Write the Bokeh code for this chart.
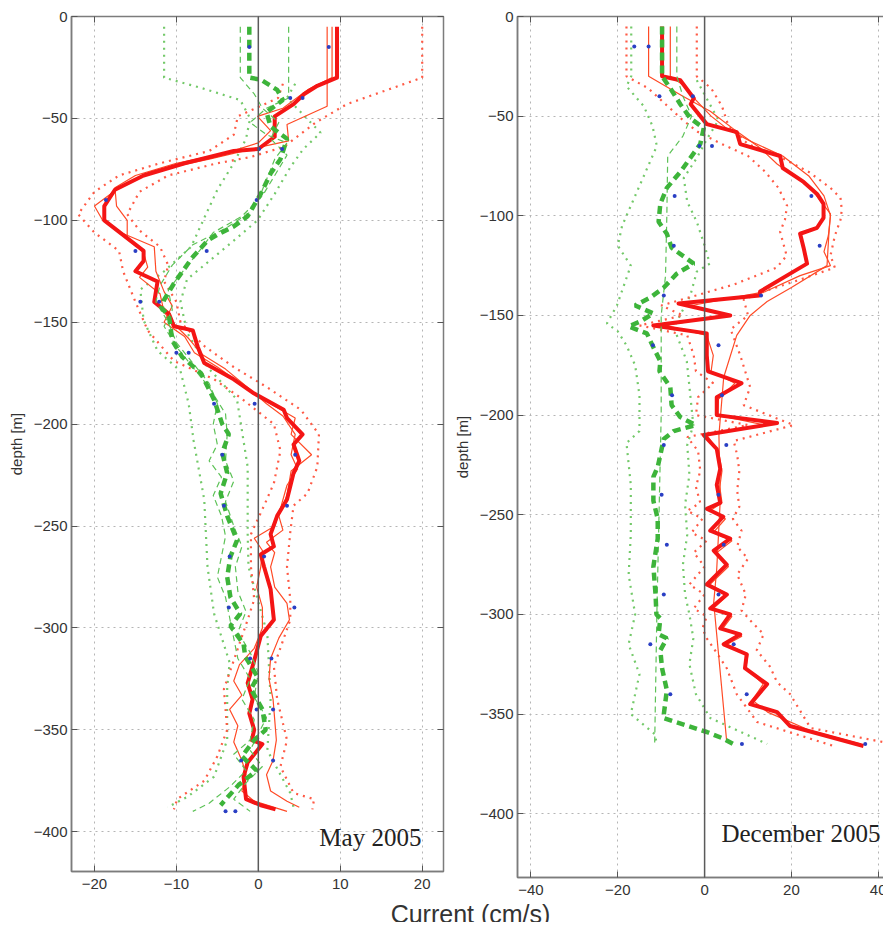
from bokeh.plotting import figure
from bokeh.layouts import column, row
from bokeh.models import LinearAxis, FixedTicker, Span, Label, Range1d, CustomJSTickFormatter
from bokeh.embed import file_html
from bokeh.resources import INLINE

# ---------------- data: (current cm/s, depth m) ----------------
# May 2005
may_red_thick = [(9.6,5),(9.6,30),(7.2,34),(5.6,38),(4.3,43),(2.0,49),(2.0,59),(0.0,65),(-3.0,66),(-9.0,72),(-14.0,78),(-17.5,85),(-18.8,93),(-18.8,100),(-14.0,115),(-14.0,120),(-15.0,125),(-12.3,130),(-12.7,140),(-10.9,146),(-10.3,152),(-8.0,154),(-7.4,162),(-6.6,170),(-3.0,178),(-0.5,185),(3.1,193),(3.5,197),(5.4,205),(4.3,210),(5.0,218),(4.3,224),(3.5,237),(2.3,245),(1.5,254),(1.9,260),(0.3,264),(0.7,270),(1.5,281),(1.9,296),(0.3,304),(-0.5,316),(-1.3,327),(-0.7,335),(-1.1,342),(-0.5,350),(-0.8,355),(0.5,357),(-1.3,366),(-1.8,373),(-1.5,384),(0.3,387),(2.1,389)]
may_red_thin_a = [(8.4,5),(8.4,44),(3.5,53),(3.7,61),(0.3,64),(-6,70),(-13,76),(-17,84),(-20,93),(-19,100),(-16.8,106),(-12.7,113),(-12.5,125),(-11.5,135),(-10.5,142),(-11.5,150),(-9,157),(-7.8,165),(-5,172),(-1.5,182),(1.5,190),(4.5,197),(4,205),(6.5,215),(4,223),(3.5,235),(2.5,245),(3,252),(1,258),(2,263),(1.5,270),(2,280),(3.5,288),(3.8,296),(2.5,305),(1.5,315),(1.3,325),(1.8,335),(2,345),(2.2,355),(1.8,365),(1,372),(1.5,380),(3.5,385),(5,388)]
may_red_thin_b = [(9.0,5),(9.0,30),(6,36),(3,45),(-0.1,49),(1.5,56),(0,62),(-4,67),(-10,72),(-15,78),(-17.5,84),(-17.3,93),(-16,100),(-16,108),(-14,116),(-13.5,123),(-14.5,128),(-12,136),(-11.5,145),(-10.5,150),(-8.5,158),(-6.8,166),(-4,173),(-1,183),(1,190),(3,196),(4.5,205),(4,215),(4.8,222),(3.5,230),(2.8,240),(2,250),(-0.5,256),(0.5,262),(0.3,270),(-0.2,280),(0.5,290),(0.5,300),(-0.5,310),(-2.3,318),(-3,326),(-2,333),(-3.5,340),(-2.5,348),(-3,356),(-2,365),(-1.5,372),(-2,380),(-0.5,385),(3.5,390)]
may_red_dot_hi = [(20,5),(20,30),(10.8,43),(7,52),(3.1,64),(-1,69),(-5,72),(-11,78),(-14.5,86),(-16,97),(-14.5,105),(-12,113),(-11,122),(-11.5,130),(-10,140),(-9.5,150),(-6.5,162),(-3,172),(1.1,182),(5.2,193),(7.4,205),(7.2,221),(6,234),(4.3,240),(3.9,253),(3.5,270),(3.9,286),(3.9,296),(1.9,319),(2.3,335),(3.5,355),(2.7,368),(4.3,381),(6.8,384),(6.6,389)]
may_red_dot_lo = [(3,33),(2.4,40),(-2.5,49),(-3,58),(-6,66),(-12,72),(-17,78),(-20,86),(-22,97),(-20,106),(-17,115),(-16.5,125),(-15,140),(-13.5,154),(-10.3,169),(-5.4,178),(-2.2,187),(1.9,200),(2.7,213),(1.9,229),(0.7,240),(-0.9,254),(-0.9,270),(-0.5,286),(-1.3,296),(-3,316),(-4.2,330),(-3.8,350),(-5,363),(-6.6,375),(-9.9,384),(-10.3,389)]
may_green_thick = [(-1.1,5),(-1.1,30),(0.3,31),(2.3,36),(3,41),(1,47),(1.5,54),(3.5,60),(2.7,70),(1.5,77),(0.3,87),(-1.3,98),(-3,103),(-5,107),(-6.2,110),(-8,118),(-10.3,131),(-11.5,139),(-11.8,143),(-10.9,147),(-10.5,159),(-9.3,167),(-7,175),(-5.4,188),(-4.4,200),(-3.6,205),(-4.4,214),(-3.8,224),(-4.6,234),(-3.8,245),(-2.6,257),(-3.4,265),(-3.8,275),(-3.4,285),(-2.2,293),(-3.4,299),(-1.8,308),(-1.6,314),(-0.1,324),(-0.9,330),(0.5,340),(0.9,350),(-0.5,355),(-2.0,363),(-0.2,370),(-2.4,377),(-4.6,387)]
may_green_thin_a = [(3.7,5),(3.7,40),(1,45),(-1,52),(1,58),(3.5,62),(2,70),(1,80),(0,90),(-1,96),(-4,104),(-8,112),(-10.5,122),(-12,132),(-12.5,140),(-11,150),(-10,160),(-8,170),(-6,180),(-5,190),(-5.5,200),(-5,210),(-6,218),(-4.5,226),(-5.5,235),(-4.5,245),(-4,255),(-4.5,265),(-5,275),(-4,285),(-3.5,295),(-3,305),(-2.5,315),(-1,325),(-2,335),(-0.5,345),(-1,355),(-3,362),(-1.5,370),(-3.5,378),(-6,386),(-8,390)]
may_green_thin_b = [(-2.2,5),(-2.2,30),(-0.5,38),(0.5,45),(2.5,52),(1.5,60),(3.5,68),(2,78),(0.5,88),(-2,98),(-5.5,106),(-7,114),(-9,124),(-11,134),(-10.5,144),(-11.5,152),(-10,162),(-8,172),(-6,182),(-4,195),(-3.8,205),(-4,218),(-3,228),(-4,238),(-3,250),(-2,260),(-2.8,270),(-2.5,282),(-1.5,292),(-2.5,302),(-1,312),(0,322),(-0.5,334),(1,344),(0,352),(-1,360),(0.5,368),(-1.5,376),(-3,384),(-1,390)]
may_green_dot_lo = [(-11.5,5),(-11.5,30),(-7,35),(-2.2,41),(-1,50),(-1.5,60),(-3,72),(-5,85),(-6.5,98),(-8.2,113),(-11.5,125),(-14.4,134),(-14,149),(-12.3,164),(-9.5,174),(-8.5,190),(-7.9,208),(-6.6,237),(-6.2,270),(-5.4,293),(-3.5,317),(-3.8,329),(-3.8,355),(-5.4,373),(-8.7,383),(-11.1,388)]
may_green_dot_hi = [(4.5,33),(3.5,40),(7.6,57),(5.5,65),(3.9,74),(2,87),(-0.1,100),(-3,110),(-6,120),(-8.7,129),(-9.5,140),(-8.7,155),(-6.2,172),(-2.6,188),(-1.3,221),(-1.3,254),(-1.2,270),(1.1,303),(1.5,335),(1.1,360),(3.9,381),(4.3,388)]
may_blue = [(8.6,15),(-1.1,15),(3.9,40),(5.4,40),(2.9,65),(0.1,65),(-18.6,90),(-0.2,90),(-15,115),(-6.3,115),(-14.4,140),(-12.1,140),(-10,165),(-8.5,165),(-5.4,190),(-0.45,190),(-4.4,215),(4.5,215),(-4.2,240),(3.5,240),(-3.5,265),(0.7,265),(-3.6,290),(4.4,290),(-1,315),(1.6,315),(-0.2,340),(1.8,340),(-2.1,365),(1.8,365),(-4,390),(-2.8,390)]

# December 2005
dec_red_thick = [(-9.8,5),(-9.8,30),(-5.6,32),(-2.5,41),(-3.2,44),(0.5,54),(7.4,58),(8.2,64),(17.4,70),(18,76),(22.8,83),(25.9,89),(27.4,94),(27.4,101),(25.9,106),(22,109),(22.8,116),(23.6,124),(19.7,129),(12.8,138),(12.6,140),(-6.0,144),(5.9,150),(-11.8,155),(0.5,159),(0.5,170),(0.8,178),(8.5,184),(2.8,191),(2.8,200),(16.7,204),(-0.2,210),(2.8,217),(3.6,227),(2.8,235),(3.6,244),(0.5,247),(4.3,251),(1.3,258),(5.9,262),(2.1,268),(5.1,275),(0.5,285),(5.1,290),(1.3,297),(5.9,300),(3.6,307),(8.2,310),(4.4,315),(9.7,320),(9.3,327),(14.4,335),(10.5,345),(16.7,349),(19.7,356),(36.6,366)]
dec_red_thin_a = [(-12.9,5),(-12.9,30),(-5,40),(1.3,47.5),(7,57),(12.8,66),(16.7,74),(24.4,86),(29,99),(28.6,110),(28.2,125),(20,136),(14.4,143),(10.5,150),(7.4,160),(4.4,181),(3.3,210),(3.6,243),(2.8,277),(2.1,294),(5.1,364)]
dec_red_thin_b = [(-7.9,5),(-7.9,30),(-4.5,35),(-2,42),(1.5,50),(5,56),(10,62),(18,70),(24,80),(27.5,90),(29,100),(28.5,110),(27.5,118),(29,125),(22,130),(14,138),(-3,145),(5,150),(-9,155),(0.5,160),(2,170),(1.5,178),(7,184),(3.2,192),(3,200),(14,205),(0.5,210),(3.2,218),(4,228),(3.5,236),(4,244),(1.2,248),(4.8,252),(2,259),(6.3,263),(2.8,269),(5.5,276),(1.2,285),(5.5,290),(2,297),(6.3,301),(4.2,307),(8.6,311),(5.2,315),(10,320),(9.5,327),(13.5,335),(11,343),(14.5,349),(24,358),(36,365)]
dec_red_dot_hi = [(-1.8,5),(-1.8,30),(1.5,36),(4,45),(5.5,55),(10,64),(17,70),(24,78),(29,86),(31.3,91),(31.6,97),(31.3,102),(30,110),(29,120),(30,126),(22,132),(15,137),(9,142),(10,150),(6,157),(8.2,170),(10.5,186),(9,195),(20.5,205),(6.7,213),(7.5,220),(8,228),(7.5,238),(8,246),(6.5,252),(8.5,258),(7.5,266),(10,272),(7.5,280),(9.5,290),(8.5,298),(10.5,303),(13.6,310),(12,318),(15,326),(16.7,334),(19.7,340),(24.4,357),(41,364)]
dec_red_dot_lo = [(-18,5),(-18,30),(-13,36),(-9,44),(-5,52),(-1.5,58),(4,64),(10,70),(14,78),(17,86),(19,95),(18.5,102),(17.4,108),(18.9,120),(16.6,126),(6.7,134.5),(-2,140),(-10,145),(-5,150),(-15,155),(-4,160),(-2.5,170),(-2,178),(2,184),(-1.5,191),(-2,200),(10,205),(-4,211),(-1.5,218),(-1,228),(-2,236),(-1,244),(-4,248),(-0.5,252),(-3,259),(0.5,263),(-2.5,269),(0,276),(-3.5,285),(0,290),(-2.5,297),(0.5,301),(-0.5,307),(0.5,312),(3,320),(5.1,327),(7.4,340),(12.1,354),(29.7,366)]
dec_green_thick = [(-9.8,5),(-9.8,30),(-7.9,36),(-5.6,44),(-3.3,51),(-0.2,56),(-1,64),(-3.3,71),(-5.6,78),(-8.7,86),(-10.2,94),(-10.6,103),(-8.7,109),(-7.6,116),(-2.5,124),(-6.4,129),(-9.4,136),(-12.5,141),(-16,145),(-11.8,149),(-14.8,153),(-17.5,155.5),(-13.3,159),(-11.8,166),(-10.2,173),(-10.4,178),(-7.9,186),(-7.6,195),(-5.6,201),(-2.1,205),(-7.1,208),(-9.4,212),(-10.2,220),(-10.8,226),(-11.8,231),(-11.8,243),(-10.8,252),(-10.8,262),(-11.8,276),(-11.3,290),(-11.1,300),(-10.2,302),(-10.6,310),(-8.7,312),(-10.2,318),(-9.8,327),(-8.7,338),(-9.5,352),(-3.8,356),(0.5,359),(4,362),(7.4,366)]
dec_green_thin = [(-6.4,5),(-6.4,30),(-5,40),(-3,50),(-5,60),(-8.5,70),(-8.7,100),(-9,130),(-10,150),(-10,200),(-10.5,250),(-11,300),(-11.5,365)]
dec_green_dot_lo = [(-16.9,5),(-16.9,30),(-18,35),(-14,45),(-12,55),(-11,65),(-14,80),(-17,95),(-19,105),(-20,115),(-17,125),(-20.2,145),(-22.5,154),(-20,158),(-18,165),(-16,175),(-15,190),(-15,208),(-18,214),(-17,235),(-17,260),(-17.5,280),(-16,300),(-17.5,315),(-15,330),(-17,350),(-11.5,360),(-11,365)]
dec_green_dot_hi = [(-1.8,32),(3.2,52),(0.4,62),(-1.8,71),(-4.8,81),(-4,93),(-1.8,103),(0,115),(1.2,124),(-1.8,128),(-3.3,140),(-7.1,156),(-4.1,173),(-3.3,190),(-2.6,205),(-4,215),(-3.5,230),(-4.5,245),(-4,260),(-5,275),(-4.5,290),(-3.5,300),(-2.6,312),(-3.5,325),(-2,340),(1.3,352),(14.4,365)]
dec_blue = [(-16.2,15),(-12.9,15),(-10.4,40),(-2.7,40),(-1.2,65),(1.7,65),(-6.9,90),(24.6,90),(-7.1,115),(26.5,115),(-9.4,140),(13,140),(-11.9,165),(3.2,165),(-7.5,190),(4,190),(-9.4,215),(5,215),(-9.9,240),(3.2,240),(-8.7,265),(4.4,265),(-9.4,290),(3.2,290),(-12.5,315),(6.7,315),(-7.9,340),(9.7,340),(8.6,365),(37,365)]

may_xticks = [-20, -10, 0, 10, 20]
dec_xticks = [-40, -20, 0, 20, 40]
depth_ticks = [-400, -350, -300, -250, -200, -150, -100, -50, 0]

RED = "#f41515"
RED_THIN = "#ff4a26"
RED_DOT = "#ff5a45"
GREEN = "#3db43a"
GREEN_THIN = "#5dc257"
GREEN_DOT = "#74c96a"
BLUE = "#2a3fc4"
FRAME = "#7c7c7c"
TXT = "#333333"
SANS = "Liberation Sans"


def xy(pts):
    return [v for v, d in pts], [-d for v, d in pts]


def panel(xr, yr, fw, fh, bl, bt, br, bb, xticks, right_axis):
    p = figure(frame_width=fw, frame_height=fh, x_range=Range1d(*xr), y_range=Range1d(*yr),
               min_border_left=bl, min_border_top=bt, min_border_right=br, min_border_bottom=bb,
               title=None, output_backend="svg", toolbar_location=None)
    p.background_fill_color = "white"
    p.border_fill_color = None
    p.outline_line_color = FRAME
    p.outline_line_width = 1.5
    p.xaxis.ticker = FixedTicker(ticks=xticks)
    p.yaxis.ticker = FixedTicker(ticks=depth_ticks)
    for ax in (p.xaxis[0], p.yaxis[0]):
        ax.axis_line_color = FRAME
        ax.axis_line_width = 1.5
        ax.major_tick_in = 6
        ax.major_tick_out = 0
        ax.minor_tick_out = 0
        ax.major_tick_line_color = "#555555"
        ax.minor_tick_line_color = None
        ax.major_label_text_font = SANS
        ax.major_label_text_font_size = "15px"
        ax.major_label_text_color = TXT
    p.xaxis.major_label_standoff = 7
    p.yaxis.major_label_standoff = 4
    p.yaxis.axis_label = "depth [m]"
    p.yaxis.axis_label_text_font = SANS
    p.yaxis.axis_label_text_font_size = "15px"
    p.yaxis.axis_label_text_font_style = "normal"
    p.yaxis.axis_label_text_color = TXT
    p.yaxis.axis_label_standoff = 6
    p.grid.grid_line_color = "#b5b5b5"
    p.grid.grid_line_dash = "2 4"
    p.grid.grid_line_width = 1
    locs = [("above", xticks)] + ([("right", depth_ticks)] if right_axis else [])
    for loc, t in locs:
        a = LinearAxis(ticker=FixedTicker(ticks=t), formatter=CustomJSTickFormatter(code="return ''"),
                       major_label_text_font_size="1px",
                       major_label_standoff=0, major_tick_in=6, major_tick_out=0, minor_tick_out=0,
                       major_tick_line_color="#555555", minor_tick_line_color=None,
                       axis_line_color=None)
        p.add_layout(a, loc)
    p.add_layout(Span(location=0, dimension="height", line_color="#5a5a5a", line_width=1.5))
    return p


def draw(p, red_dot_lo, red_dot_hi, red_thin, red_thick, green_dot_lo, green_dot_hi,
         green_thin, green_thick, blue):
    for s in (green_dot_lo, green_dot_hi):
        x, y = xy(s)
        p.line(x, y, line_color=GREEN_DOT, line_width=2.2, line_dash="2 5")
    for s in (red_dot_lo, red_dot_hi):
        x, y = xy(s)
        p.line(x, y, line_color=RED_DOT, line_width=2.2, line_dash="2 5")
    for s in red_thin:
        x, y = xy(s)
        p.line(x, y, line_color=RED_THIN, line_width=1.2)
    x, y = xy(red_thick)
    p.line(x, y, line_color=RED, line_width=4, line_join="round")
    for s in green_thin:
        x, y = xy(s)
        p.line(x, y, line_color=GREEN_THIN, line_width=1.2, line_dash="6 4")
    x, y = xy(green_thick)
    p.line(x, y, line_color=GREEN, line_width=4.5, line_dash="8 5")
    x, y = xy(blue)
    p.scatter(x, y, size=4, color=BLUE, line_color=None)


p1 = panel((-22.8, 22.6), (-419.5, 0), 372, 855, 71, 16, 7, 31, may_xticks, True)
draw(p1, may_red_dot_lo, may_red_dot_hi, [may_red_thin_a, may_red_thin_b], may_red_thick,
     may_green_dot_lo, may_green_dot_hi, [may_green_thin_a, may_green_thin_b], may_green_thick, may_blue)
p1.add_layout(Label(x=19.9, y=-403, text="May 2005", text_align="right", text_baseline="alphabetic",
                    text_font="Liberation Serif", text_font_size="25px", text_color="#222222"))

p2 = panel((-43.1, 41.9), (-432, 0), 369, 861, 64, 15, 0, 26, dec_xticks, False)
draw(p2, dec_red_dot_lo, dec_red_dot_hi, [dec_red_thin_a, dec_red_thin_b], dec_red_thick,
     dec_green_dot_lo, dec_green_dot_hi, [dec_green_thin], dec_green_thick, dec_blue)
p2.add_layout(Label(x=40.5, y=-410, text="December 2005", text_align="right", text_baseline="alphabetic",
                    text_font="Liberation Serif", text_font_size="25px", text_color="#222222"))

# transparent x-axis title strip, pulled up over the empty bottom border of the panels
p3 = figure(frame_width=883, frame_height=60, x_range=Range1d(0, 883), y_range=Range1d(0, 60),
            min_border=0, x_axis_location=None, y_axis_location=None, title=None,
            output_backend="svg", toolbar_location=None)
p3.outline_line_color = None
p3.background_fill_color = None
p3.border_fill_color = None
p3.grid.visible = False
p3.margin = (-40, 0, 0, 0)
p3.add_layout(Label(x=470, y=9, text="Current (cm/s)", text_align="center", text_baseline="alphabetic",
                    text_font=SANS, text_font_size="25px", text_color=TXT))

layout = column(row(p1, p2, spacing=0), p3, spacing=0)
open("out.html", "w").write(file_html(layout, INLINE))
